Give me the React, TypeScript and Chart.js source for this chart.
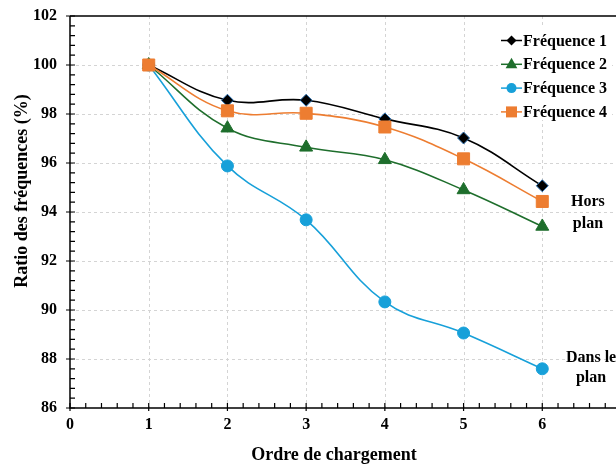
import React, { useEffect, useRef } from "react";
import { Chart, registerables } from "chart.js";

Chart.register(...registerables);

// ---- data ----
const chargeOrder = [1, 2, 3, 4, 5, 6];
const freq1 = [100, 98.56, 98.56, 97.8, 97.02, 95.07];
const freq2 = [100, 97.42, 96.64, 96.13, 94.9, 93.41];
const freq3 = [100, 95.88, 93.68, 90.33, 89.06, 87.6];
const freq4 = [100, 98.13, 98.03, 97.47, 96.17, 94.43];
const seriesNames = ["Fréquence 1", "Fréquence 2", "Fréquence 3", "Fréquence 4"];
const seriesColors = ["#000000", "#1e6e2c", "#17a0d9", "#ed7d31"];
const seriesShapes = ["rectRot", "triangle", "circle", "rect"];
const xTickValues = [0, 1, 2, 3, 4, 5, 6];
const yTickValues = [86, 88, 90, 92, 94, 96, 98, 100, 102];
const xTitle = "Ordre de chargement";
const yTitle = "Ratio des fréquences (%)";
const noteOutOfPlane = ["Hors", "plan"];
const noteInPlane = ["Dans le", "plan"];

const FONT = "'Liberation Serif', 'Times New Roman', serif";

function drawMarker(ctx: CanvasRenderingContext2D, shape: string, x: number, y: number, r: number) {
  ctx.beginPath();
  if (shape === "rectRot") {
    ctx.moveTo(x, y - r);
    ctx.lineTo(x + r, y);
    ctx.lineTo(x, y + r);
    ctx.lineTo(x - r, y);
    ctx.closePath();
  } else if (shape === "triangle") {
    ctx.moveTo(x, y - r);
    ctx.lineTo(x + r * 0.9, y + r * 0.6);
    ctx.lineTo(x - r * 0.9, y + r * 0.6);
    ctx.closePath();
  } else if (shape === "circle") {
    ctx.arc(x, y, r, 0, Math.PI * 2);
  } else {
    ctx.rect(x - r, y - r, 2 * r, 2 * r);
  }
  ctx.fill();
}

const framePlugin = {
  id: "frame",
  beforeDatasetsDraw(chart: any) {
    const { ctx, chartArea } = chart;
    const xs = chart.scales.x;
    const ys = chart.scales.y;
    ctx.save();
    // dotted grid
    ctx.strokeStyle = "#d4d4d4";
    ctx.lineWidth = 1;
    ctx.setLineDash([3, 3]);
    for (const v of xTickValues) {
      if (v === 0) continue;
      const px = Math.round(xs.getPixelForValue(v)) + 0.5;
      ctx.beginPath();
      ctx.moveTo(px, chartArea.top);
      ctx.lineTo(px, chartArea.bottom);
      ctx.stroke();
    }
    for (const v of yTickValues) {
      if (v === yTickValues[0] || v === yTickValues[yTickValues.length - 1]) continue;
      const py = Math.round(ys.getPixelForValue(v)) + 0.5;
      ctx.beginPath();
      ctx.moveTo(chartArea.left, py);
      ctx.lineTo(chartArea.right, py);
      ctx.stroke();
    }
    ctx.setLineDash([]);
    // axes
    ctx.strokeStyle = "#000";
    ctx.lineWidth = 1.5;
    ctx.beginPath();
    ctx.moveTo(chartArea.left, chartArea.top);
    ctx.lineTo(chartArea.left, chartArea.bottom);
    ctx.lineTo(chartArea.right + 20, chartArea.bottom);
    ctx.moveTo(chartArea.left, chartArea.top);
    ctx.lineTo(chartArea.right + 20, chartArea.top);
    ctx.stroke();
    // ticks
    ctx.lineWidth = 1.2;
    ctx.beginPath();
    for (let v = 0; v <= 7.001; v += 0.2) {
      const px = xs.getPixelForValue(v);
      const major = Math.abs(v - Math.round(v)) < 1e-6;
      ctx.moveTo(px, chartArea.bottom + (major ? 3 : 0));
      ctx.lineTo(px, chartArea.bottom - 5);
    }
    for (let v = 86; v <= 102.001; v += 0.4) {
      const py = ys.getPixelForValue(v);
      const major = Math.abs(v / 2 - Math.round(v / 2)) < 1e-6;
      ctx.moveTo(chartArea.left - (major ? 4 : 0), py);
      ctx.lineTo(chartArea.left + 5, py);
    }
    ctx.stroke();
    ctx.restore();
  },
  afterDraw(chart: any) {
    const { ctx, chartArea } = chart;
    const xs = chart.scales.x;
    const ys = chart.scales.y;
    ctx.save();
    // legend
    ctx.fillStyle = "#fff";
    ctx.fillRect(498, 28, 114, 92);
    ctx.font = `bold 16px ${FONT}`;
    ctx.textBaseline = "middle";
    ctx.textAlign = "left";
    seriesNames.forEach((name, i) => {
      const y = 40.5 + i * 23.8;
      ctx.strokeStyle = seriesColors[i];
      ctx.lineWidth = 1.5;
      ctx.beginPath();
      ctx.moveTo(501, y);
      ctx.lineTo(522, y);
      ctx.stroke();
      ctx.fillStyle = seriesColors[i];
      const r = seriesShapes[i] === "rect" ? 5.5 : seriesShapes[i] === "triangle" ? 6.5 : 5;
      drawMarker(ctx, seriesShapes[i], 511.5, y, r);
      ctx.fillStyle = "#000";
      ctx.fillText(name, 523, y + 1);
    });
    // annotations
    ctx.textAlign = "center";
    ctx.fillStyle = "#000";
    const ax = xs.getPixelForValue(6.58);
    ctx.fillText(noteOutOfPlane[0], ax, ys.getPixelForValue(94.4));
    ctx.fillText(noteOutOfPlane[1], ax, ys.getPixelForValue(93.5));
    const bx = xs.getPixelForValue(6.62);
    ctx.fillText(noteInPlane[0], bx, ys.getPixelForValue(88.05));
    ctx.fillText(noteInPlane[1], bx, ys.getPixelForValue(87.22));
    // axis titles
    ctx.font = `bold 18px ${FONT}`;
    ctx.fillText(xTitle, chartArea.left + 264, 455);
    ctx.translate(22, 191);
    ctx.rotate(-Math.PI / 2);
    ctx.fillText(yTitle, 0, 0);
    ctx.restore();
  },
};

export default function App() {
  const ref = useRef<HTMLCanvasElement | null>(null);

  useEffect(() => {
    if (!ref.current) return;
    const series = [freq1, freq2, freq3, freq4];
    const chart = new Chart(ref.current, {
      type: "line",
      data: {
        datasets: series.map((vals, i) => ({
          label: seriesNames[i],
          data: chargeOrder.map((x, j) => ({ x, y: vals[j] })),
          borderColor: seriesColors[i],
          backgroundColor: seriesColors[i],
          borderWidth: 1.6,
          tension: 0.4,
          pointStyle: seriesShapes[i] as any,
          pointRadius: seriesShapes[i] === "rect" ? 8.5 : seriesShapes[i] === "triangle" ? 7.5 : 6,
          pointBackgroundColor: seriesColors[i],
          pointBorderColor: i === 0 ? "#2a6fb0" : seriesColors[i],
          pointBorderWidth: 1,
          order: i === 3 ? 0 : i + 1,
          fill: false,
        })),
      },
      options: {
        animation: false,
        responsive: false,
        events: [],
        layout: { autoPadding: false, padding: { left: 0, top: 16, right: 11, bottom: 0 } },
        plugins: { legend: { display: false }, tooltip: { enabled: false } },
        scales: {
          x: {
            type: "linear",
            min: 0,
            max: 7,
            grid: { display: false, drawTicks: false },
            border: { display: false },
            afterFit: (s: any) => { s.height = 58; s.paddingLeft = 0; s.paddingRight = 0; },
            afterBuildTicks: (s: any) => { s.ticks = xTickValues.map((v) => ({ value: v })); },
            ticks: {
              padding: 7,
              color: "#000",
              font: { family: FONT, size: 16, weight: "bold" },
            },
          },
          y: {
            type: "linear",
            min: 86,
            max: 102,
            grid: { display: false, drawTicks: false },
            border: { display: false },
            afterFit: (s: any) => { s.width = 70; s.paddingTop = 0; s.paddingBottom = 0; },
            afterBuildTicks: (s: any) => { s.ticks = yTickValues.map((v) => ({ value: v })); },
            ticks: {
              padding: 13,
              color: "#000",
              font: { family: FONT, size: 16, weight: "bold" },
            },
          },
        },
      },
      plugins: [framePlugin],
    });
    return () => chart.destroy();
  }, []);

  return (
    <div style={{ position: "fixed", left: 0, top: 0, width: 616, height: 466, overflow: "hidden", background: "#fff" }}>
      <canvas ref={ref} width={632} height={466} style={{ display: "block" }} />
    </div>
  );
}
